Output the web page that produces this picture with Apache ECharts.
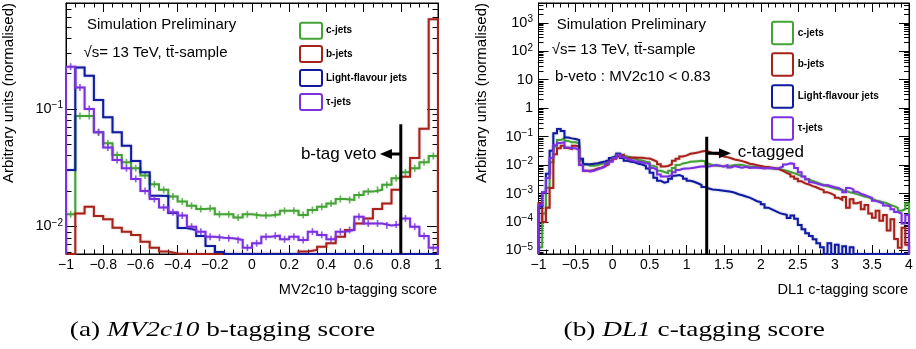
<!DOCTYPE html>
<html>
<head>
<meta charset="utf-8">
<script src="https://cdn.jsdelivr.net/npm/echarts@6/dist/echarts.min.js"></script>
<style>
  html, body { margin: 0; padding: 0; background: #fff; }
  #chart { width: 916px; height: 349px; }
</style>
</head>
<body>
<div id="chart"></div>
<script>
// ---------------------------------------------------------------------------
// Histogram contents (normalised), one value per bin.
// MV2c10: 40 bins of width 0.05 from -1 to 1.
// DL1:   100 bins of width 0.05 from -1 to 4.
// A value of 0 means the bin is empty / below the plotted range.
// ---------------------------------------------------------------------------
const mvBinning = { lo: -1, width: 0.05 };
const dlBinning = { lo: -1, width: 0.05 };

const mvCJets = [
  0.0127, 0.0871, 0.0871, 0.0633, 0.0511, 0.0406, 0.0352, 0.0313, 0.0271, 0.0229,
  0.0205, 0.0180, 0.0163, 0.0150, 0.0141, 0.0143, 0.0127, 0.0127, 0.0119, 0.0127,
  0.0124, 0.0124, 0.0127, 0.0136, 0.0136, 0.0125, 0.0138, 0.0147, 0.0157, 0.0171,
  0.0168, 0.0185, 0.0198, 0.0205, 0.0226, 0.0257, 0.0289, 0.0313, 0.0352, 0.0398
];
const mvBJets = [
  0, 0.0129, 0.0147, 0.0123, 0.0115, 0.00977, 0.00903, 0.00848, 0.00743, 0.00660,
  0.00611, 0.00588, 0, 0, 0, 0, 0, 0, 0, 0,
  0, 0, 0, 0, 0, 0.00611, 0.00631, 0.00673, 0.00720, 0.00819,
  0.00933, 0.0106, 0.0117, 0.0141, 0.0157, 0.0205, 0.0265, 0.0383, 0.0679, 0.579
];
const mvLight = [
  0.0303, 0.225, 0.192, 0.119, 0.0850, 0.0633, 0.0487, 0.0361, 0.0289, 0.0183,
  0.0182, 0.0130, 0.00971, 0.00934, 0.00830, 0.00682, 0.00607, 0, 0, 0,
  0, 0, 0, 0, 0, 0, 0, 0, 0, 0,
  0, 0, 0, 0, 0, 0, 0, 0, 0, 0
];
const mvTau = [
  0.229, 0.152, 0.100, 0.0634, 0.0469, 0.0368, 0.0313, 0.0254, 0.0200, 0.0171,
  0.0145, 0.0132, 0.0124, 0.00995, 0.00903, 0.00819, 0.00803, 0.00794, 0.00768, 0.00660,
  0.00720, 0.00819, 0.00835, 0.00778, 0.00819, 0.00768, 0.00903, 0.00848, 0.00778, 0.00903,
  0.00933, 0.0121, 0.0106, 0.0106, 0.0102, 0.0104, 0.0117, 0.00995, 0.00830, 0.00660
];

const dlCJets = [
  1.3e-5, 2.0e-4, 1.6e-3, 0.0126, 0.0447, 0.0759, 0.0871, 0.0708, 0.0631, 0.0631,
  0.0589, 0.0141, 0.0107, 0.00955, 0.00955, 0.0100, 0.0112, 0.0117, 0.0135, 0.0148,
  0.0191, 0.0251, 0.0219, 0.0200, 0.0191, 0.0166, 0.0151, 0.0145, 0.0132, 0.0126,
  0.00955, 0.00832, 0.00631, 0.00575, 0.00525, 0.00631, 0.00794, 0.0100, 0.0115, 0.0120,
  0.0132, 0.0135, 0.0138, 0.0141, 0.0138, 0.0112, 0.0100, 0.00955, 0.00955, 0.00891,
  0.00912, 0.00955, 0.0100, 0.0102, 0.0100, 0.00933, 0.00891, 0.00871, 0.00851, 0.00832,
  0.00813, 0.00794, 0.00776, 0.00741, 0.00724, 0.00676, 0.00631, 0.00575, 0.00525, 0.00468,
  0.00417, 0.00372, 0.00316, 0.00275, 0.00251, 0.00224, 0.00200, 0.00182, 0.00166, 0.00151,
  0.00141, 0.00132, 0.00123, 0.00112, 0.00105, 9.55e-4, 8.71e-4, 7.94e-4, 7.41e-4, 6.61e-4,
  5.75e-4, 5.37e-4, 5.01e-4, 4.57e-4, 3.98e-4, 3.63e-4, 3.16e-4, 2.51e-4, 2.82e-4, 4.47e-4
];
const dlBJets = [
  4.57e-4, 1.0e-4, 3.16e-4, 1.58e-3, 0.0240, 0.0389, 0.0479, 0.0398, 0.0372, 0.0479,
  0.0447, 0.0102, 0.00631, 0.00631, 0.00676, 0.00759, 0.00813, 0.00933, 0.0107, 0.0141,
  0.0166, 0.0200, 0.0229, 0.0182, 0.0182, 0.0186, 0.0182, 0.0182, 0.0174, 0.0170,
  0.0151, 0.0132, 0.0107, 0.00891, 0.00933, 0.0107, 0.0141, 0.0166, 0.0200, 0.0219,
  0.0251, 0.0263, 0.0275, 0.0302, 0.0316, 0.0295, 0.0263, 0.0251, 0.0234, 0.0200,
  0.0191, 0.0174, 0.0158, 0.0148, 0.0138, 0.0126, 0.0112, 0.0107, 0.0100, 0.00933,
  0.00871, 0.00851, 0.00813, 0.00776, 0.00708, 0.00631, 0.00537, 0.00468, 0.00398, 0.00331,
  0.00269, 0.00229, 0.00209, 0.00182, 0.00166, 0.00145, 0.00132, 0.00112, 0.00100, 8.71e-4,
  7.08e-4, 6.03e-4, 7.59e-4, 3.16e-4, 6.31e-4, 4.57e-4, 5.01e-4, 2.82e-4, 3.98e-4, 2.0e-4,
  1.41e-4, 2.51e-4, 1.12e-4, 1.78e-4, 5.01e-5, 1.26e-4, 2.51e-5, 1.26e-5, 6.31e-5, 1.58e-5
];
const dlLight = [
  3.5e-4, 1.1e-3, 5.0e-3, 0.032, 0.132, 0.186, 0.158, 0.093, 0.087, 0.083,
  0.076, 0.0166, 0.0107, 0.0107, 0.0112, 0.0117, 0.0126, 0.0135, 0.0151, 0.0178,
  0.0209, 0.0251, 0.0178, 0.0141, 0.0132, 0.0126, 0.0112, 0.0105, 0.0093, 0.0076,
  0.0054, 0.0036, 0.0028, 0.0024, 0.0026, 0.0033, 0.0042, 0.0045, 0.0040, 0.0033,
  0.0028, 0.0026, 0.0023, 0.0020, 0.0017, 0.0015, 0.0014, 0.00135, 0.00132, 0.00126,
  0.0012, 0.00115, 0.00107, 9.5e-4, 8.7e-4, 7.9e-4, 7.2e-4, 6.3e-4, 5.4e-4, 5.0e-4,
  4.2e-4, 3.2e-4, 2.8e-4, 2.4e-4, 2.1e-4, 1.9e-4, 1.8e-4, 1.4e-4, 1.7e-4, 1.3e-4,
  7.9e-5, 5.6e-5, 4.0e-5, 3.2e-5, 2.5e-5, 1.8e-5, 1.3e-5, 0, 1.8e-5, 0,
  1.6e-5, 0, 1.4e-5, 0, 1.3e-5, 0, 0, 0, 0, 0,
  0, 0, 0, 0, 0, 0, 0, 0, 0, 0
];
const dlTau = [
  3.98e-4, 1.12e-3, 3.55e-3, 0.0178, 0.0501, 0.0603, 0.0631, 0.0417, 0.0389, 0.0389,
  0.0339, 0.0100, 0.00631, 0.00603, 0.00631, 0.00708, 0.00794, 0.00891, 0.0112, 0.0132,
  0.0178, 0.0229, 0.0191, 0.0166, 0.0151, 0.0138, 0.0132, 0.0126, 0.0117, 0.0112,
  0.00794, 0.00676, 0.00468, 0.00398, 0.00398, 0.00447, 0.00562, 0.00676, 0.00741, 0.00759,
  0.00776, 0.00813, 0.00851, 0.00891, 0.00912, 0.00891, 0.00955, 0.0100, 0.00955, 0.00891,
  0.0100, 0.00832, 0.00933, 0.00851, 0.00813, 0.00871, 0.00794, 0.00832, 0.00813, 0.00794,
  0.00759, 0.00794, 0.00776, 0.00741, 0.00794, 0.00891, 0.0105, 0.0115, 0.0110, 0.00794,
  0.00562, 0.00398, 0.00316, 0.00251, 0.00229, 0.00209, 0.00191, 0.00200, 0.00182, 0.00166,
  0.00158, 0.00135, 0.00112, 0.00158, 0.00141, 0.00117, 0.00100, 8.91e-4, 7.94e-4, 7.08e-4,
  5.62e-4, 5.01e-4, 4.47e-4, 3.80e-4, 3.55e-4, 2.82e-4, 2.24e-4, 2.0e-4, 8.91e-5, 1.78e-4
];

// Legend entries (same order in both panels)
const flavourNames = ['c-jets', 'b-jets', 'Light-flavour jets', '\u03c4-jets'];

// Working-point cuts and where their marker lines / arrows sit
const bVetoCut = 0.8;     // MV2c10
const bVetoLineTop = 0.074;
const bVetoArrowLevel = 0.0414;
const bVetoArrowEnd = 0.72;
const cTagCut = 1.27;     // DL1
const cTagLineTop = 0.1;
const cTagArrowLevel = 0.026;
const cTagArrowEnd = 1.517;

// Axis ranges and tick labels
const mvXRange = [-1, 1];
const dlXRange = [-1, 4];
const mvYRange = [0.00583, 0.798];   // axis ends (log scale)
const dlYRange = [7.53e-6, 4970];
const mvYDecades = [-2, -1];          // labelled powers of ten
const dlYDecades = [-5, -4, -3, -2, -1, 0, 1, 2, 3];

// ---------------------------------------------------------------------------
const SANS = '"Liberation Sans", Arial, Helvetica, sans-serif';
const SERIF = '"Liberation Serif", "Times New Roman", serif';
const colours = ['#45a236', '#a6221b', '#101b9e', '#7b31e0'];

const log10 = Math.log10;

// Outline of a histogram as a polyline in (x, log10 y) space, closed to the floor
function histOutline(values, binning, floor) {
  const pts = [[binning.lo, floor]];
  values.forEach((v, i) => {
    const y = v > 0 ? Math.max(log10(v), floor) : floor;
    pts.push([binning.lo + i * binning.width, y]);
    pts.push([binning.lo + (i + 1) * binning.width, y]);
  });
  pts.push([binning.lo + values.length * binning.width, floor]);
  return pts;
}
// Bin-centre error markers (only for visible bins)
function binCentres(values, binning, floor) {
  const pts = [];
  values.forEach((v, i) => {
    if (v > 0 && log10(v) > floor) pts.push([binning.lo + (i + 0.5) * binning.width, log10(v)]);
  });
  return pts;
}
// Minor log ticks (2..9 x 10^n) inside the range
function minorLogTicks(lo, hi) {
  const out = [];
  for (let n = Math.floor(lo) - 1; n <= Math.ceil(hi); n++) {
    for (let k = 2; k <= 9; k++) {
      const t = n + log10(k);
      if (t > lo && t < hi) out.push(t);
    }
  }
  return out;
}
function decadeLabel(v) {
  const e = Math.round(v);
  if (e === 0) return '{b|1}';
  if (e === 1) return '{b|10}';
  return '{b|10}{s|' + (e < 0 ? '\u2212' + (-e) : e) + '}';
}
function xLabel(v) {
  return String(Math.round(v * 100) / 100).replace('-', '\u2212');
}

const labelRich = {
  b: { fontSize: 14.5, fontFamily: SANS, color: '#000', lineHeight: 17 },
  s: { fontSize: 10, fontFamily: SANS, color: '#000', lineHeight: 10, verticalAlign: 'top' }
};

function xAxes(grid, range, interval, minorSplit) {
  const base = {
    type: 'value', gridIndex: grid, min: range[0], max: range[1], interval: interval,
    axisLine: { show: true, onZero: false, lineStyle: { color: '#000', width: 1 } },
    axisTick: { show: true, inside: true, length: 9, lineStyle: { color: '#000', width: 1 } },
    minorTick: { show: true, splitNumber: minorSplit, length: 4.5, lineStyle: { color: '#000', width: 1 } },
    splitLine: { show: false }, minorSplitLine: { show: false }
  };
  return [
    Object.assign({}, base, {
      position: 'bottom',
      axisLabel: { show: true, margin: 4, fontSize: 14, fontFamily: SANS, color: '#000', formatter: xLabel }
    }),
    Object.assign({}, base, { position: 'top', axisLabel: { show: false } })
  ];
}

function yAxes(grid, range, decades, majorLen, minorLen, labelMargin) {
  const lo = log10(range[0]), hi = log10(range[1]);
  const minors = minorLogTicks(lo, hi);
  const mk = (position, ticks, len, withLabels, withLine) => ({
    type: 'value', gridIndex: grid, min: lo, max: hi, position: position,
    axisLine: { show: withLine, onZero: false, lineStyle: { color: '#000', width: 1 } },
    axisTick: { show: true, inside: true, length: len, customValues: ticks, lineStyle: { color: '#000', width: 1 } },
    axisLabel: withLabels
      ? { show: true, customValues: decades, margin: labelMargin, formatter: decadeLabel, rich: labelRich }
      : { show: false },
    splitLine: { show: false }
  });
  return [
    mk('left', decades, majorLen, true, true),
    mk('left', minors, minorLen, false, false),
    mk('right', decades, majorLen, false, true),
    mk('right', minors, minorLen, false, false)
  ];
}

const mvFloor = log10(mvYRange[0]);
const dlFloor = log10(dlYRange[0]);

const series = [];
const mvSets = [mvCJets, mvBJets, mvLight, mvTau];
const dlSets = [dlCJets, dlBJets, dlLight, dlTau];
const withMarkers = [true, false, false, true];

flavourNames.forEach((name, i) => {
  series.push({
    type: 'line', name: name, xAxisIndex: 0, yAxisIndex: 0,
    data: histOutline(mvSets[i], mvBinning, mvFloor),
    symbol: 'none', silent: true, animation: false, z: 3 + i,
    lineStyle: { color: colours[i], width: 2, join: 'miter', shadowColor: colours[i] + '66', shadowBlur: 2 }
  });
  if (withMarkers[i]) {
    series.push({
      type: 'scatter', name: name, xAxisIndex: 0, yAxisIndex: 0,
      data: binCentres(mvSets[i], mvBinning, mvFloor),
      symbol: 'rect', symbolSize: [1.6, 7], silent: true, animation: false, z: 3 + i,
      itemStyle: { color: colours[i] }
    });
  }
  series.push({
    type: 'line', name: name, xAxisIndex: 2, yAxisIndex: 4,
    data: histOutline(dlSets[i], dlBinning, dlFloor),
    symbol: 'none', silent: true, animation: false, z: 3 + i,
    lineStyle: { color: colours[i], width: 2, join: 'miter', shadowColor: colours[i] + '66', shadowBlur: 2 }
  });
});

// Cut lines and arrows
function cutLine(xi, yi, cut, top, floor) {
  return {
    type: 'line', xAxisIndex: xi, yAxisIndex: yi, symbol: 'none', silent: true, animation: false, z: 10,
    data: [[cut, log10(top)], [cut, floor]],
    lineStyle: { color: '#000', width: 3 }
  };
}
function arrow(xi, yi, from, to, level, rotate) {
  return {
    type: 'line', xAxisIndex: xi, yAxisIndex: yi, silent: true, animation: false, z: 10,
    symbol: 'none', showSymbol: true,
    data: [
      { value: [from, log10(level)], symbol: 'none' },
      { value: [to, log10(level)], symbol: 'triangle', symbolSize: [10, 12], symbolRotate: rotate }
    ],
    itemStyle: { color: '#000' },
    lineStyle: { color: '#000', width: 3 }
  };
}
series.push(cutLine(0, 0, bVetoCut, bVetoLineTop, mvFloor));
series.push(arrow(0, 0, bVetoCut, bVetoArrowEnd, bVetoArrowLevel, 90));
series.push(cutLine(2, 4, cTagCut, cTagLineTop, dlFloor));
series.push(arrow(2, 4, cTagCut, cTagArrowEnd, cTagArrowLevel, -90));

// Texts, legends and captions
const graphic = [];
function text(x, y, str, opts) {
  graphic.push(Object.assign({
    type: 'text', x: x, y: y, silent: true,
    style: Object.assign({ text: str, fill: '#000', fontFamily: SANS, fontSize: 15, align: 'left', verticalAlign: 'middle' }, opts && opts.style)
  }, opts && opts.el));
}
// axis titles
text(8.5, 3, 'Arbitrary units (normalised)', { style: { align: 'right' }, el: { rotation: Math.PI / 2 } });
text(482, 3, 'Arbitrary units (normalised)', { style: { align: 'right' }, el: { rotation: Math.PI / 2 } });
text(437, 290, 'MV2c10 b-tagging score', { style: { align: 'right', fontSize: 14.6 } });
text(908, 290, 'DL1 c-tagging score', { style: { align: 'right', fontSize: 14.6 } });
// panel labels
text(87, 25, 'Simulation Preliminary');
text(83.5, 52.5, '\u221as= 13 TeV, tt\u0304-sample');
text(556.7, 25, 'Simulation Preliminary');
text(551.7, 50, '\u221as= 13 TeV, tt\u0304-sample');
text(555, 77.3, 'b-veto : MV2c10 < 0.83');
text(376.5, 154, 'b-tag veto', { style: { align: 'right', fontSize: 17 } });
text(737.7, 152, 'c-tagged', { style: { fontSize: 17 } });
// legends
function legend(x, ys, w, h, textX) {
  flavourNames.forEach((name, i) => {
    graphic.push({
      type: 'rect', silent: true,
      shape: { x: x, y: ys[i], width: w, height: h, r: 2 },
      style: { fill: '#fff', stroke: colours[i], lineWidth: 2 }
    });
    text(textX, ys[i] + h / 2, name, { style: { fontSize: 10, fontWeight: 'bold' } });
  });
}
legend(300, [22.7, 46, 70, 94], 22, 16, 326);
legend(772, [21.7, 53.3, 85.3, 117.3], 21, 22.5, 797.7);
// captions
function caption(x, str) {
  graphic.push({
    type: 'text', x: x, y: 330, silent: true, scaleX: 1.24,
    style: {
      text: str, fill: '#000', fontFamily: SERIF, fontSize: 22, align: 'center', verticalAlign: 'middle',
      rich: { i: { fontFamily: SERIF, fontSize: 22, fontStyle: 'italic', fill: '#000' } }
    }
  });
}
caption(222.5, '(a) {i|MV2c10} b-tagging score');
caption(694.3, '(b) {i|DL1} c-tagging score');

const chart = echarts.init(document.getElementById('chart'), null, { renderer: 'canvas' });
chart.setOption({
  animation: false,
  backgroundColor: '#fff',
  textStyle: { fontFamily: SANS },
  grid: [
    { left: 66, top: 3, right: 478, bottom: 95, show: true, borderColor: '#000', borderWidth: 1, backgroundColor: 'transparent' },
    { left: 538.5, top: 3, right: 7, bottom: 95, show: true, borderColor: '#000', borderWidth: 1, backgroundColor: 'transparent' }
  ],
  xAxis: [].concat(xAxes(0, mvXRange, 0.2, 4), xAxes(1, dlXRange, 0.5, 5)),
  yAxis: [].concat(yAxes(0, mvYRange, mvYDecades, 11, 5.5, 3), yAxes(1, dlYRange, dlYDecades, 10, 5, 5.5)),
  series: series,
  graphic: graphic
});
</script>
</body>
</html>
